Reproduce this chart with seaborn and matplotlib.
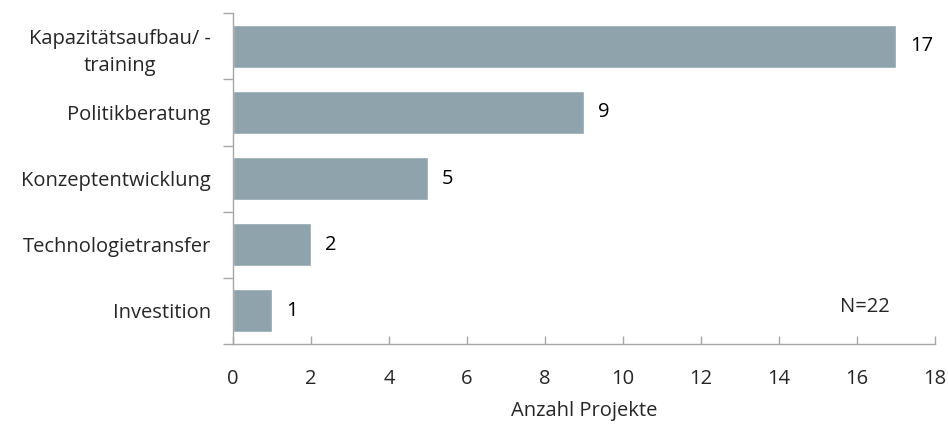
import matplotlib
matplotlib.use("Agg")
import matplotlib.pyplot as plt
import seaborn as sns
import pandas as pd
import numpy as np

# Data
categories = ["Kapazitätsaufbau/ -\ntraining", "Politikberatung", "Konzeptentwicklung",
              "Technologietransfer", "Investition"]
counts = [17, 9, 5, 2, 1]
x_ticks = [0, 2, 4, 6, 8, 10, 12, 14, 16, 18]
note = "N=22"

df = pd.DataFrame({"Kategorie": categories, "Anzahl": counts})

sns.set_style("white")
plt.rcParams["font.family"] = ["Open Sans", "DejaVu Sans"]

bar_color = "#8FA3AD"
axis_color = "#A6A6A6"
fs = 14.5

fig = plt.figure(figsize=(9.48, 4.25), dpi=100)
ax = fig.add_axes([0.2458, 0.1906, 0.7405, 0.7784])

sns.barplot(data=df, x="Anzahl", y="Kategorie", orient="h", color=bar_color,
            width=0.65, saturation=1, ax=ax)

ax.bar_label(ax.containers[0], padding=10, fontsize=fs, color="black")

ax.set_xlim(0, 18)
ax.set_ylim(len(categories) - 0.5, -0.5)
ax.set_xticks(x_ticks)
ax.set_xticklabels([str(t) for t in x_ticks], fontsize=fs)
ax.tick_params(axis="x", bottom=True, direction="in", length=6, width=1,
               color=axis_color, pad=18)

# category labels without ticks, separator ticks between categories
ax.tick_params(axis="y", which="major", left=True, length=0, pad=16, labelsize=fs)
for lbl in ax.get_yticklabels():
    lbl.set_multialignment("center")
    lbl.set_linespacing(1.45)
ax.set_yticks(np.arange(-0.5, len(categories), 1.0), minor=True)
ax.tick_params(axis="y", which="minor", left=True, direction="out", length=7, width=1,
               color=axis_color)

for side in ["top", "right"]:
    ax.spines[side].set_visible(False)
for side in ["left", "bottom"]:
    ax.spines[side].set_color(axis_color)
    ax.spines[side].set_linewidth(1)

ax.set_ylabel("")
ax.set_xlabel("Anzahl Projekte", fontsize=fs, labelpad=9)

ax.text(0.900, 0.112, note, transform=ax.transAxes, ha="center", va="center", fontsize=fs)

fig.savefig("out.png", dpi=100)
